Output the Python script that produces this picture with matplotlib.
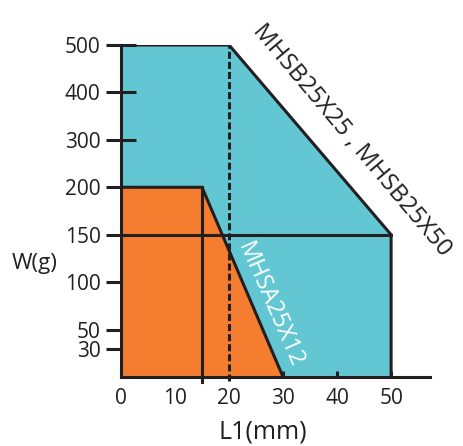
import numpy as np
import matplotlib
matplotlib.use("Agg")
import matplotlib.pyplot as plt

plt.rcParams['font.family'] = ['Open Sans', 'DejaVu Sans']

# Data
y_ticks = [30, 50, 100, 150, 200, 300, 400, 500]
x_ticks = [0, 10, 20, 30, 40, 50]
# MHSB25X25 / MHSB25X50 allowable region
blue_L = [0, 0, 20, 50, 50]
blue_W = [0, 500, 500, 150, 0]
# MHSA25X12 allowable region
orange_L = [0, 0, 15, 30]
orange_W = [0, 200, 200, 0]
# reference lines
hline_W = 150
hline_L = [0, 50]
vline_L = 15
vline_W = [-5, 200]
dash_L = 20
dash_W = [-4, 500]

blue = '#63C7D3'
orange = '#F47D30'
ink = '#231F20'
lw = 2.2

def fwd(y):
    y = np.asarray(y, dtype=float)
    return np.where(y <= 200, y, 200 + (y - 200) / 2.0)

def inv(v):
    v = np.asarray(v, dtype=float)
    return np.where(v <= 200, v, 200 + (v - 200) * 2.0)

fig = plt.figure(figsize=(4.64, 4.46), dpi=100)
ax = fig.add_axes([121/464, 1-377/446, (430-121)/464, (377-45)/446])
ax.set_yscale('function', functions=(fwd, inv))
ax.set_xlim(0, 57.2)
ax.set_ylim(0, 500)

ax.fill(blue_L, blue_W, color=blue, lw=0, zorder=1)
ax.plot(blue_L[1:], blue_W[1:], color=ink, lw=lw, zorder=4, solid_joinstyle='miter')
ax.fill(orange_L, orange_W, color=orange, lw=0, zorder=2)
ax.plot(orange_L[1:], orange_W[1:], color=ink, lw=lw, zorder=4, solid_joinstyle='miter')
ax.plot(hline_L, [hline_W, hline_W], color=ink, lw=lw, zorder=4)
ax.plot([vline_L, vline_L], vline_W, color=ink, lw=lw, zorder=4, clip_on=False)
ax.plot([dash_L, dash_L], dash_W, color=ink, lw=lw, zorder=4, clip_on=False,
        linestyle=(0, (2.3, 1.0)))

for s in ['top', 'right']:
    ax.spines[s].set_visible(False)
for s in ['left', 'bottom']:
    ax.spines[s].set_color(ink)
    ax.spines[s].set_linewidth(lw)
    ax.spines[s].set_zorder(5)

ax.set_yticks(y_ticks)
ax.set_yticklabels([str(v) for v in y_ticks])
ax.set_xticks(x_ticks)
ax.set_xticklabels([str(v) for v in x_ticks])
ax.minorticks_off()
ax.tick_params(axis='y', direction='inout', length=21.6, width=lw, color=ink,
               labelsize=15, labelcolor=ink, pad=4)
ax.tick_params(axis='x', direction='in', length=4, width=lw, color=ink,
               labelsize=15, labelcolor=ink, pad=8)

ax.set_ylabel('W(g)', rotation=0, fontsize=16, color=ink, ha='center', va='center')
ax.yaxis.set_label_coords(-0.28, 0.343)
ax.set_xlabel('L1(mm)', fontsize=18, color=ink, va='center')
ax.xaxis.set_label_coords(0.46, -0.166)

ax.text(0.747, 0.712, 'MHSB25X25 , MHSB25X50', transform=ax.transAxes,
        rotation=-50, rotation_mode='anchor', ha='center', va='center',
        fontsize=17.5, color=ink, clip_on=False)
ax.text(0.482, 0.217, 'MHSA25X12', transform=ax.transAxes,
        rotation=-66.5, rotation_mode='anchor', ha='center', va='center',
        fontsize=17, color='white')

fig.savefig('out.png', dpi=100)
